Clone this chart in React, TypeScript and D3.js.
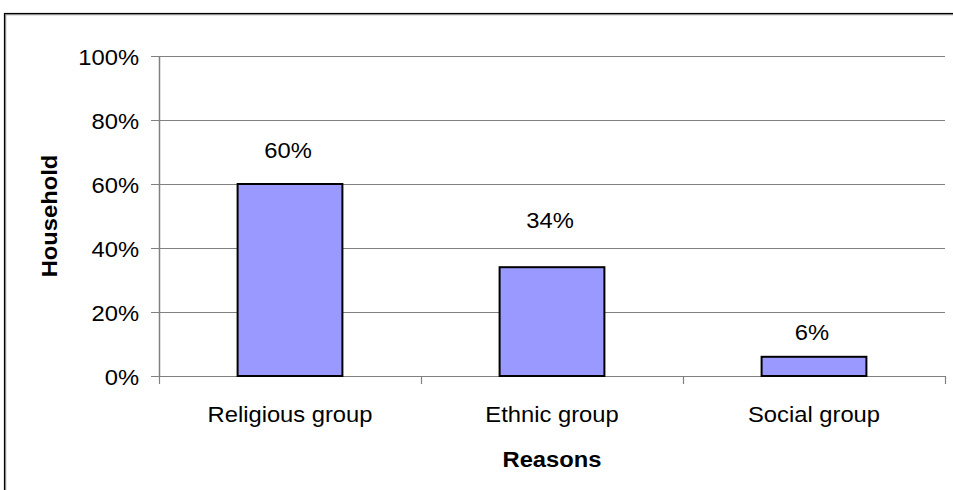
import React from "react";
import * as d3 from "d3";

const categories = ["Religious group", "Ethnic group", "Social group"];
const shares = [60, 34, 6];
const yTicks = [0, 20, 40, 60, 80, 100];
// vertical gap between bar top and its value label baseline (px)
const labelGaps = [26, 39, 17];

const W = 953;
const H = 490;
const plot = { left: 159, right: 945, top: 56, bottom: 376 };
const FONT = "'Liberation Sans', Arial, sans-serif";
const FS = 22;
const STRETCH = 1.08;

type LabelProps = {
  x: number;
  y: number;
  anchor?: "start" | "middle" | "end";
  bold?: boolean;
  rotate?: number;
  dy?: string;
  children: React.ReactNode;
};

// text drawn with the slightly widened glyphs used throughout the chart
function Label({ x, y, anchor = "middle", bold, rotate = 0, dy, children }: LabelProps) {
  return (
    <text
      transform={`translate(${x},${y}) rotate(${rotate}) scale(${STRETCH},1)`}
      textAnchor={anchor}
      fontSize={FS}
      fontWeight={bold ? "bold" : "normal"}
      dy={dy}
      fill="#000"
    >
      {children}
    </text>
  );
}

export default function App() {
  const x = d3
    .scaleBand<string>()
    .domain(categories)
    .range([plot.left, plot.right])
    .paddingInner(0.6)
    .paddingOuter(0.3);
  const xEdges = d3.range(categories.length + 1).map(
    (i) => plot.left + ((plot.right - plot.left) * i) / categories.length
  );
  const y = d3.scaleLinear().domain([0, 100]).range([plot.bottom, plot.top]);

  return (
    <svg
      width={W}
      height={H}
      style={{ position: "absolute", left: 0, top: 0, background: "#fff" }}
      fontFamily={FONT}
    >
      {/* frame */}
      <rect x={5.5} y={14.5} width={W + 10} height={H} fill="none" stroke="#999" strokeWidth={1.5} />
      <rect x={4.5} y={13.5} width={W + 10} height={H} fill="none" stroke="#000" strokeWidth={1.2} />

      {/* gridlines */}
      {yTicks.map((t) => (
        <line
          key={"g" + t}
          x1={plot.left - 8}
          x2={plot.right}
          y1={Math.round(y(t)) + 0.5}
          y2={Math.round(y(t)) + 0.5}
          stroke="#808080"
          strokeWidth={1.2}
        />
      ))}
      {/* y axis */}
      <line x1={plot.left + 0.5} x2={plot.left + 0.5} y1={plot.top} y2={plot.bottom} stroke="#808080" strokeWidth={1.5} />
      {yTicks.map((t) => (
        <Label key={"yl" + t} x={139} y={y(t) + 1} anchor="end" dy="0.35em">
          {t}%
        </Label>
      ))}
      {/* x ticks */}
      {xEdges.map((ex, i) => (
        <line
          key={"xt" + i}
          x1={Math.round(ex) + 0.5}
          x2={Math.round(ex) + 0.5}
          y1={plot.bottom}
          y2={plot.bottom + 8}
          stroke="#808080"
          strokeWidth={1.2}
        />
      ))}

      {/* bars */}
      {categories.map((c, i) => (
        <rect
          key={"b" + c}
          x={x(c)!}
          y={y(shares[i])}
          width={x.bandwidth()}
          height={y(0) - y(shares[i])}
          fill="#9999FF"
          stroke="#000"
          strokeWidth={2}
        />
      ))}
      {/* value labels */}
      {categories.map((c, i) => (
        <Label key={"v" + c} x={x(c)! + x.bandwidth() / 2 - 2} y={y(shares[i]) - labelGaps[i]}>
          {shares[i]}%
        </Label>
      ))}
      {/* category labels */}
      {categories.map((c) => (
        <Label key={"c" + c} x={x(c)! + x.bandwidth() / 2} y={422}>
          {c}
        </Label>
      ))}

      {/* axis titles */}
      <Label x={(plot.left + plot.right) / 2} y={467} bold>
        Reasons
      </Label>
      <Label x={57} y={216} rotate={-90} bold>
        Household
      </Label>
    </svg>
  );
}
